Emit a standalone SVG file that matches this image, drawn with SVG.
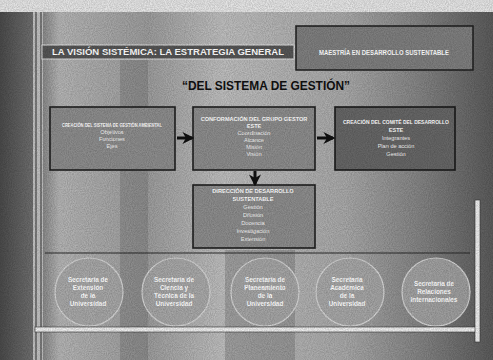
<svg xmlns="http://www.w3.org/2000/svg" width="493" height="360" viewBox="0 0 493 360">
<defs>
<filter id="noise" x="0" y="0" width="100%" height="100%">
<feTurbulence type="fractalNoise" baseFrequency="0.95" numOctaves="2" seed="3" result="t"/>
<feColorMatrix type="matrix" values="0 0 0 0 0  0 0 0 0 0  0 0 0 0 0  1.4 0 0 0 -0.35" />
</filter>
<linearGradient id="bg" x1="0" y1="0" x2="1" y2="0">
<stop offset="0" stop-color="#4a4a4a"/>
<stop offset="0.07" stop-color="#707070"/>
<stop offset="0.12" stop-color="#b4b4b4"/>
<stop offset="0.3" stop-color="#9c9c9c"/>
<stop offset="0.45" stop-color="#bdbdbd"/>
<stop offset="0.7" stop-color="#a8a8a8"/>
<stop offset="0.85" stop-color="#848484"/>
<stop offset="1" stop-color="#5a5a5a"/>
</linearGradient>
<marker id="ah" viewBox="0 0 10 10" refX="8" refY="5" markerWidth="4" markerHeight="4" orient="auto">
<path d="M0,0 L10,5 L0,10 L3,5 Z" fill="#111"/>
</marker>
</defs>
<style>
.box{fill:#8c8c8c;stroke:#1e1e1e;stroke-width:1.6}
.box3{fill:#666;stroke:#1a1a1a;stroke-width:1.6}
.bt{font-family:"Liberation Sans",Arial,sans-serif;font-size:5.6px;fill:#fff;text-anchor:middle;font-weight:bold}
.st{font-family:"Liberation Sans",Arial,sans-serif;font-size:5.6px;fill:#f4f4f4;text-anchor:middle}
.circ{fill:#a6a6a6;stroke:#d4d4d4;stroke-width:1.2;fill-opacity:0.85}
.ct{font-family:"Liberation Sans",Arial,sans-serif;font-size:6.4px;fill:#fff;text-anchor:middle;font-weight:bold}
.conn{stroke:#111;stroke-width:3;fill:none}
</style>
<rect width="493" height="360" fill="url(#bg)"/>
<rect x="0" y="0" width="493" height="12" fill="#e4e4e4"/>
<rect x="33" y="12" width="10" height="348" fill="#c0c0c0"/>
<line x1="36" y1="12" x2="36" y2="360" stroke="#333" stroke-width="1"/>
<line x1="41" y1="12" x2="41" y2="360" stroke="#333" stroke-width="1"/>
<rect x="120" y="60" width="28" height="300" fill="#6a6a6a" opacity="0.35"/>
<rect x="225" y="250" width="70" height="110" fill="#5a5a5a" opacity="0.3"/>
<g id="header">
<rect x="42" y="45" width="252" height="14" fill="#555" stroke="#e0e0e0" stroke-width="1"/>
<text x="168" y="55" font-family="'Liberation Sans',Arial,sans-serif" font-size="9" font-weight="bold" fill="#fff" text-anchor="middle" textLength="232" lengthAdjust="spacingAndGlyphs">LA VISIÓN SISTÉMICA: LA ESTRATEGIA GENERAL</text>
</g>
<g id="header-right">
<rect x="296" y="26" width="177" height="44" fill="#7e7e7e" stroke="#1e1e1e" stroke-width="1.5"/>
<text x="384" y="55" font-family="'Liberation Sans',Arial,sans-serif" font-size="6.5" font-weight="bold" fill="#fff" text-anchor="middle" textLength="130" lengthAdjust="spacingAndGlyphs">MAESTRÍA EN DESARROLLO SUSTENTABLE</text>
</g>
<text id="title" x="266" y="90" font-family="'Liberation Sans',Arial,sans-serif" font-size="13" font-weight="bold" fill="#111" text-anchor="middle" textLength="168" lengthAdjust="spacingAndGlyphs">“DEL SISTEMA DE GESTIÓN”</text>
<g id="box1">
<rect class="box" x="50" y="107" width="125" height="63"/>
<text class="bt" x="112" y="127" textLength="100" lengthAdjust="spacingAndGlyphs">CREACIÓN DEL SISTEMA DE GESTIÓN AMBIENTAL</text>
<text class="st" x="112" y="134">Objetivos</text>
<text class="st" x="112" y="141">Funciones</text>
<text class="st" x="112" y="148">Ejes</text>
</g>
<g id="box2">
<rect class="box" x="193" y="107" width="122" height="63"/>
<text class="bt" x="254" y="121">CONFORMACIÓN DEL GRUPO GESTOR</text>
<text class="bt" x="254" y="128">ESTE</text>
<text class="st" x="254" y="135">Coordinación</text>
<text class="st" x="254" y="142">Alcance</text>
<text class="st" x="254" y="149">Misión</text>
<text class="st" x="254" y="156">Visión</text>
</g>
<g id="box3">
<rect class="box3" x="335" y="107" width="120" height="63"/>
<text class="bt" x="396" y="124" textLength="106" lengthAdjust="spacingAndGlyphs">CREACIÓN DEL COMITÉ DEL DESARROLLO</text>
<text class="bt" x="396" y="132">ESTE</text>
<text class="st" x="396" y="140">Integrantes</text>
<text class="st" x="396" y="148">Plan de acción</text>
<text class="st" x="396" y="156">Gestión</text>
</g>
<g id="box4">
<rect class="box" x="193" y="185" width="122" height="63"/>
<text class="bt" x="253" y="193">DIRECCIÓN DE DESARROLLO</text>
<text class="bt" x="253" y="201">SUSTENTABLE</text>
<text class="st" x="253" y="209">Gestión</text>
<text class="st" x="253" y="217">Difusión</text>
<text class="st" x="253" y="225">Docencia</text>
<text class="st" x="253" y="233">Investigación</text>
<text class="st" x="253" y="241">Extensión</text>
</g>
<g id="connectors">
<line class="conn" x1="177" y1="138" x2="192" y2="138" marker-end="url(#ah)"/>
<line class="conn" x1="317" y1="138" x2="333" y2="138" marker-end="url(#ah)"/>
<line class="conn" x1="255" y1="171" x2="255" y2="184" marker-end="url(#ah)"/>
<line x1="45" y1="253" x2="470" y2="253" stroke="#2a2a2a" stroke-width="1"/>
</g>
<g id="c1"><circle class="circ" cx="89" cy="292" r="34"/>
<text class="ct" x="88" y="282">Secretaría de</text><text class="ct" x="88" y="290">Extensión</text><text class="ct" x="88" y="298">de la</text><text class="ct" x="88" y="306">Universidad</text></g>
<g id="c2"><circle class="circ" cx="176" cy="292" r="34"/>
<text class="ct" x="174" y="282">Secretaría de</text><text class="ct" x="174" y="290">Ciencia y</text><text class="ct" x="174" y="298">Técnica de la</text><text class="ct" x="174" y="306">Universidad</text></g>
<g id="c3"><circle class="circ" cx="265" cy="292" r="34"/>
<text class="ct" x="265" y="282">Secretaría de</text><text class="ct" x="265" y="290">Planeamiento</text><text class="ct" x="265" y="298">de la</text><text class="ct" x="265" y="306">Universidad</text></g>
<g id="c4"><circle class="circ" cx="350" cy="292" r="34"/>
<text class="ct" x="347" y="282">Secretaría</text><text class="ct" x="347" y="290">Académica</text><text class="ct" x="347" y="298">de la</text><text class="ct" x="347" y="306">Universidad</text></g>
<g id="c5"><circle class="circ" cx="436" cy="292" r="34"/>
<text class="ct" x="434" y="286">Secretaría de</text><text class="ct" x="434" y="294">Relaciones</text><text class="ct" x="434" y="302">Internacionales</text></g>
<rect x="35" y="327" width="444" height="5" fill="#eeeeee" stroke="#333" stroke-width="0.6"/>
<rect x="475" y="200" width="5" height="142" fill="#eeeeee" stroke="#333" stroke-width="0.6"/>
<rect width="493" height="360" filter="url(#noise)" opacity="0.2"/>
</svg>
